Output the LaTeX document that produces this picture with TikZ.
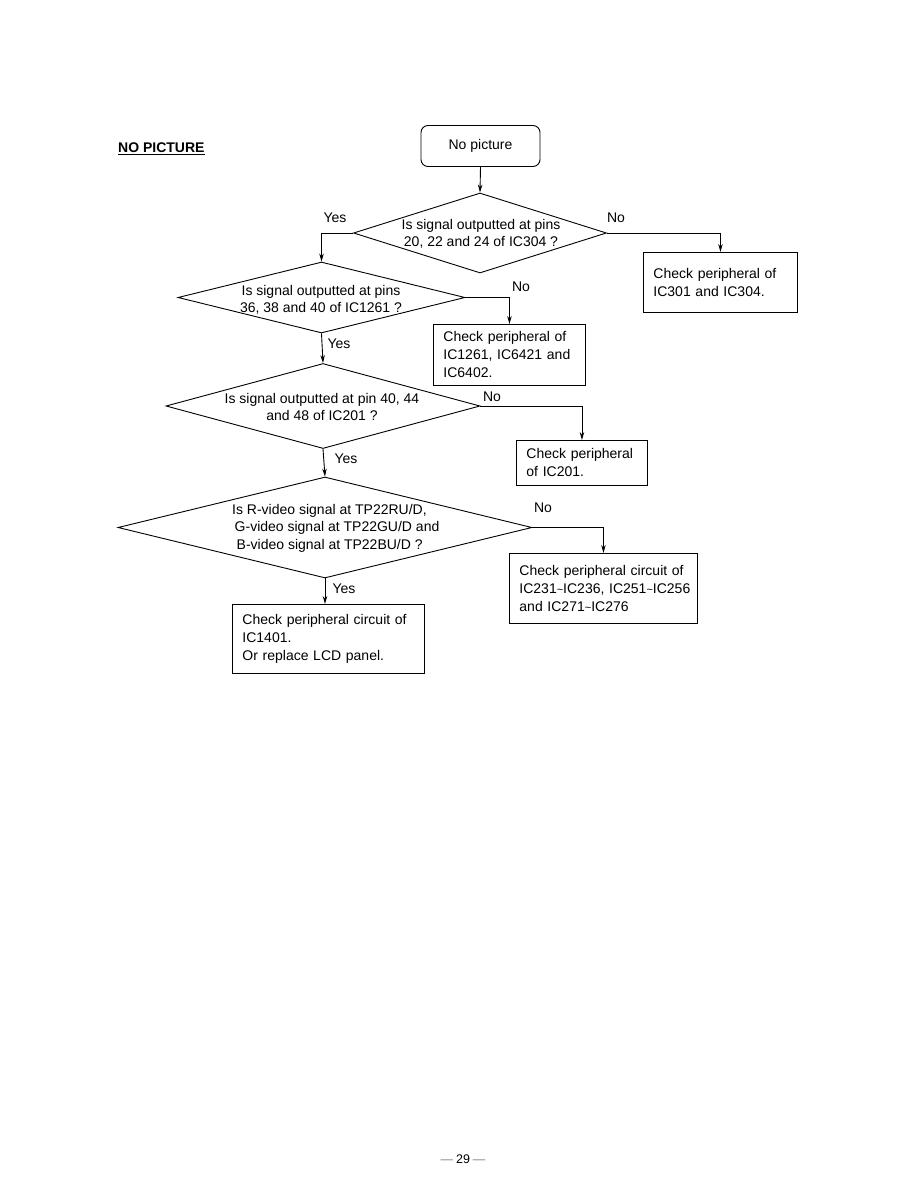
\documentclass[tikz,border=0pt]{standalone}
\usepackage{fontspec}
\setmainfont{Liberation Sans}
\usetikzlibrary{shapes.geometric,arrows.meta}
\newcommand{\tld}{{\fontsize{11}{11}\selectfont\textasciitilde}}
\tikzset{
  every node/.style={font=\fontsize{14}{18}\selectfont},
  dia/.style={draw, diamond, inner sep=0pt, line width=0.9pt},
  dtext/.style={align=center, inner sep=0pt, font=\fontsize{14}{17.5}\selectfont},
  box/.style={draw, rectangle, line width=0.9pt, align=left, inner xsep=10pt, inner ysep=0pt, anchor=north west},
  lbl/.style={inner sep=0pt},
  conn/.style={line width=0.9pt, -{Stealth[length=8pt,width=4.5pt]}}
}
\begin{document}
\begin{tikzpicture}[x=1pt,y=-1pt]
\useasboundingbox[fill=white] (0,0) rectangle (918,1188);

% title
\node[anchor=base west, inner sep=0pt, font=\fontsize{14}{18}\selectfont\bfseries] (title) at (118,153) {\underline{NO PICTURE}};

% start
\node[draw, rounded corners=7pt, line width=0.9pt, minimum width=119pt, minimum height=41pt, inner sep=0pt] (start) at (480.5,146) {No picture};

% diamonds
\node[dia, minimum width=253pt, minimum height=80pt] (d1) at (480,233) {};
\node[dtext] (t1) at (481,234) {Is signal outputted at pins\\20, 22 and 24 of IC304 ?};

\node[dia, minimum width=287pt, minimum height=71pt] (d2) at (321.5,297.5) {};
\node[dtext] (t2) at (321,300) {Is signal outputted at pins\\36, 38 and 40 of IC1261 ?};

\node[dia, minimum width=314pt, minimum height=85pt] (d3) at (323,406) {};
\node[dtext] (t3) at (322,407) {Is signal outputted at pin 40, 44\\and 48 of IC201 ?};

\node[dia, minimum width=414pt, minimum height=101pt] (d4) at (325,527.5) {};
\node[dtext, align=left, anchor=west] (t4) at (232,528) {Is R-video signal at TP22RU/D,\\\hspace*{2.5pt}G-video signal at TP22GU/D and\\\hspace*{4.5pt}B-video signal at TP22BU/D ?};

% boxes
\node[box, text width=134pt, minimum height=60pt] (c1) at (643,252) {Check peripheral of\\IC301 and IC304.};
\node[box, text width=132pt, minimum height=61pt] (c2) at (433,324) {Check peripheral of\\IC1261, IC6421 and\\IC6402.};
\node[box, text width=111pt, minimum height=45pt] (c3) at (516,440) {Check peripheral\\of IC201.};
\node[box, text width=168pt, minimum height=70pt] (c4) at (509,553) {\mbox{Check peripheral circuit of}\\\mbox{IC231\tld IC236, IC251\tld IC256}\\\mbox{and IC271\tld IC276}};
\node[box, text width=172pt, minimum height=69pt] (c5) at (232,604) {Check peripheral circuit of\\IC1401.\\Or replace LCD panel.};

% connectors
\draw[conn] (start.south) -- (d1.north);
\draw[conn] (d1.west) -| (d2.north);
\draw[conn] (d1.east) -| (c1.north);
\draw[conn] (d2.east) -| (c2.north);
\draw[conn] (d2.south) -- (d3.north);
\draw[conn] (d3.east) -| (c3.north);
\draw[conn] (d3.south) -- (d4.north);
\draw[conn] (d4.east) -| (c4.north);
\draw[conn] (d4.south) -- (d4.south |- c5.north);

% labels
\node[lbl] (y1) at (335,218) {Yes};
\node[lbl] (n1) at (616,218) {No};
\node[lbl] (n2) at (521,287) {No};
\node[lbl] (y2) at (339,344) {Yes};
\node[lbl] (n3) at (492,397) {No};
\node[lbl] (y3) at (346,459) {Yes};
\node[lbl] (n4) at (543,508) {No};
\node[lbl] (y4) at (344,589) {Yes};

% page number
\node[inner sep=0pt, font=\fontsize{12.5}{14}\selectfont] (page) at (463,1159) {{\color{gray}—}\hspace{3pt}29\hspace{3pt}{\color{gray}—}};
\end{tikzpicture}
\end{document}
